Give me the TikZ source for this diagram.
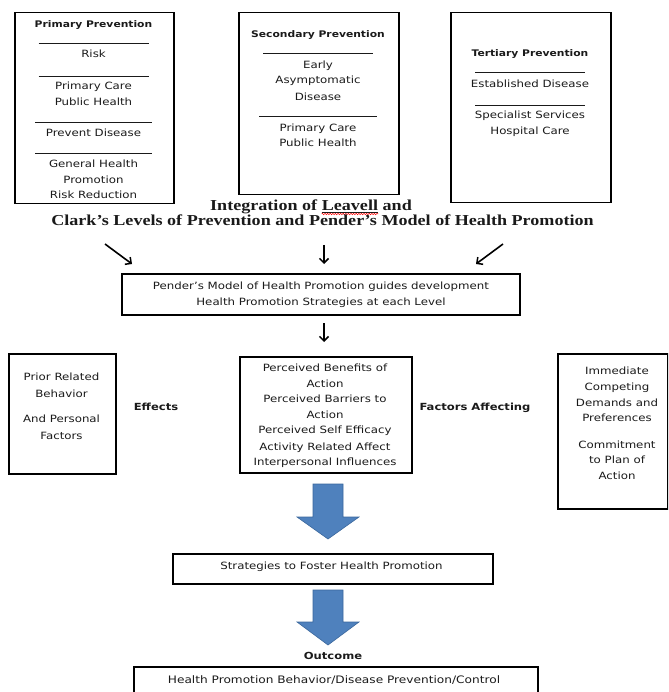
\documentclass[tikz,border=0pt]{standalone}
\usepackage{fontspec}
\setmainfont{DejaVu Sans}[FakeStretch=1.18]
\newfontfamily\titlefont{Liberation Serif}[FakeStretch=1.19]
\usetikzlibrary{arrows.meta,decorations.pathmorphing}
\definecolor{arrowblue}{HTML}{4F81BD}
\definecolor{arrowedge}{HTML}{3A679C}
\definecolor{ink}{HTML}{1A1A1A}
\begin{document}
\begin{tikzpicture}[x=1pt,y=-1pt,
  box/.style={draw=black, line width=1.5pt, inner sep=0, anchor=north west},
  txt/.style={font=\fontsize{10}{12}\selectfont, text=ink, anchor=base, inner sep=0},
  wide/.style={font=\fontsize{10.3}{12}\selectfont, text=ink, anchor=base, inner sep=0},
  hd/.style={font=\fontsize{9.1}{11}\selectfont\bfseries, text=ink, anchor=base, inner sep=0},
  lbl/.style={font=\fontsize{9.8}{12}\selectfont\bfseries, text=ink, anchor=base, inner sep=0},
  rl/.style={inner sep=0, anchor=center, text=ink},
  ttl/.style={font=\titlefont\fontsize{15.2}{16}\selectfont\bfseries, text=ink, anchor=base west, inner sep=0},
  arr/.style={line width=1.6pt, -{Straight Barb[length=4.5pt,width=9pt,line width=1.5pt]}},
  bluearr/.style={fill=arrowblue, draw=arrowedge, line width=0.6pt, line join=miter}
]
\useasboundingbox (0,0) rectangle (668,692);
\clip (0,0) rectangle (668,692);

% ---- top boxes
\node[box, minimum width=159pt, minimum height=191pt] (prim) at (14,12) {};
\node[box, minimum width=160pt, minimum height=182pt] (sec) at (238,12) {};
\node[box, minimum width=160pt, minimum height=190pt] (ter) at (450,12) {};

% primary
\node[hd] (prim-h) at (93.5,27.3) {Primary Prevention};
\foreach \yy/\ww [count=\i] in {43.3/110,76/110,122.7/117,153.3/117}
  \node[rl] (prim-r\i) at (93.5,\yy) {\rule{\ww pt}{0.7pt}};
\foreach \yy/\tx [count=\i] in {57.7/Risk,90/Primary Care,105.3/Public Health,136.7/Prevent Disease,167.3/General Health,184/Promotion,199/Risk Reduction}
  \node[txt] (prim-t\i) at (93.5,\yy) {\tx};

% secondary
\node[hd] (sec-h) at (318,37.7) {Secondary Prevention};
\foreach \yy/\ww [count=\i] in {53.3/110,116.7/118}
  \node[rl] (sec-r\i) at (318,\yy) {\rule{\ww pt}{0.7pt}};
\foreach \yy/\tx [count=\i] in {69/Early,84/Asymptomatic,100.7/Disease,131.7/Primary Care,146.7/Public Health}
  \node[txt] (sec-t\i) at (318,\yy) {\tx};

% tertiary
\node[hd] (ter-h) at (530,56.7) {Tertiary Prevention};
\foreach \yy/\ww [count=\i] in {72.7/110,105/110}
  \node[rl] (ter-r\i) at (530,\yy) {\rule{\ww pt}{0.7pt}};
\foreach \yy/\tx [count=\i] in {87.3/Established Disease,118.7/Specialist Services,134.7/Hospital Care}
  \node[txt] (ter-t\i) at (530,\yy) {\tx};

% ---- title
\node[ttl] (t1a) at (210,211) {Integration of};
\node[ttl] (t1b) at ([xshift=4.2pt]t1a.base east) {Leavell};
\node[ttl] (t1c) at ([xshift=4.2pt]t1b.base east) {and};
\draw[ink, line width=0.6pt] ([yshift=-1.2pt]t1b.base west) -- ([yshift=-1.2pt]t1b.base east);
\draw[red, line width=0.5pt, decorate, decoration={snake, amplitude=0.7pt, segment length=2.6pt}]
  ([yshift=-3pt]t1b.base west) -- ([yshift=-3pt]t1b.base east);
\node[ttl, anchor=base] (t2) at (322.5,225.5) {Clark’s Levels of Prevention and Pender’s Model of Health Promotion};

% ---- Pender box and arrows
\node[box, minimum width=398pt, minimum height=41pt] (pender) at (121,273) {};
\node[txt] (pender-t1) at (321,289.5) {Pender’s Model of Health Promotion guides development};
\node[txt] (pender-t2) at (321,305.5) {Health Promotion Strategies at each Level};

\coordinate (a1s) at (105,244); \coordinate (a1e) at (132,264);
\coordinate (a2s) at (324,245); \coordinate (a2e) at (324,264);
\coordinate (a3s) at (503,244); \coordinate (a3e) at (476,264);
\coordinate (a4s) at (324,323); \coordinate (a4e) at (324,342);
\draw[arr] (a1s) -- (a1e);
\draw[arr] (a2s) -- (a2e);
\draw[arr] (a3s) -- (a3e);
\draw[arr] (a4s) -- (a4e);

% ---- middle row
\node[box, minimum width=107pt, minimum height=120pt] (left) at (8,353) {};
\foreach \yy/\tx [count=\i] in {380.5/Prior Related,397/Behavior,422.5/And Personal,439/Factors}
  \node[txt] (left-t\i) at (61.5,\yy) {\tx};
\node[lbl] (effects) at (156,410.5) {Effects};

\node[box, minimum width=172pt, minimum height=116pt] (center) at (239,356) {};
\foreach \yy/\tx [count=\i] in {371/Perceived Benefits of,387/Action,402.5/Perceived Barriers to,418.5/Action,433.5/Perceived Self Efficacy,450/Activity Related Affect,465/Interpersonal Influences}
  \node[txt] (center-t\i) at (325,\yy) {\tx};
\node[lbl] (factors) at (475,410.5) {Factors Affecting};

\node[box, minimum width=110pt, minimum height=155pt] (right) at (557,353) {};
\foreach \yy/\tx [count=\i] in {374/Immediate,390.5/Competing,406/Demands and,421.5/Preferences,448/Commitment,463/to Plan of,479/Action}
  \node[txt] (right-t\i) at (617,\yy) {\tx};

% ---- blue arrows
\path[bluearr] (313,484) -- (343,484) -- (343,517) -- (359,517) -- (328,539) -- (297,517) -- (313,517) -- cycle;
\node[box, minimum width=320pt, minimum height=30pt] (strat) at (172,553) {};
\node[txt] (strat-t) at (331.5,569.5) {Strategies to Foster Health Promotion};
\path[bluearr] (313,590) -- (343,590) -- (343,622) -- (359,622) -- (328,645) -- (297,622) -- (313,622) -- cycle;

% ---- outcome
\node[lbl] (outcome) at (333,659.5) {Outcome};
\node[box, minimum width=404pt, minimum height=40pt] (outbox) at (133,666) {};
\node[wide] (outbox-t) at (334,683.5) {Health Promotion Behavior/Disease Prevention/Control};
\end{tikzpicture}
\end{document}
